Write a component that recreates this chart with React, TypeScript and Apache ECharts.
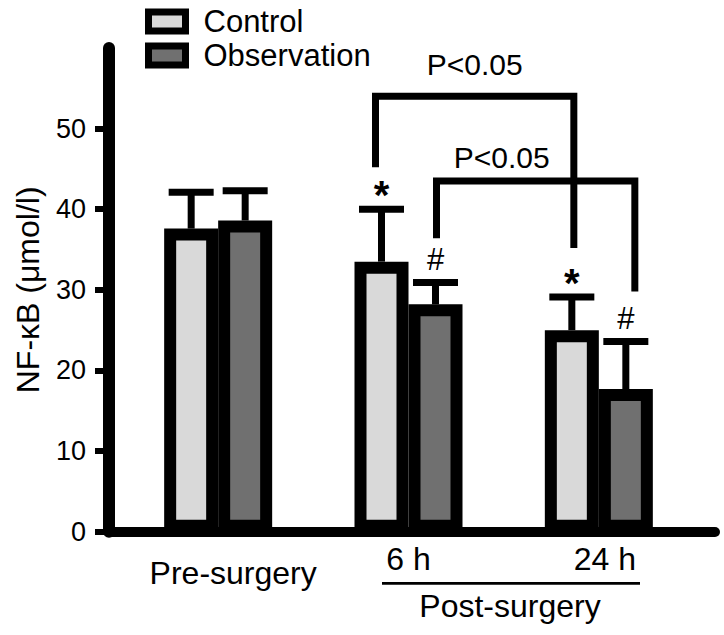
import React, { useEffect, useRef } from 'react';
import * as echarts from 'echarts';

// ---------- data ----------
const categories = ['Pre-surgery', '6 h', '24 h'];
const seriesNames = ['Control', 'Observation'];
const controlMean = [37.6, 33.5, 25.0];
const controlUpper = [42.1, 40.0, 29.1];
const observationMean = [38.6, 28.2, 17.7];
const observationUpper = [42.3, 30.9, 23.6];
const controlMarks = ['', '*', '*'];
const observationMarks = ['', '#', '#'];
const yTicks = [0, 10, 20, 30, 40, 50];
const yMin = 0;
const yMax = 60;
const yTitle = 'NF-κB (μmol/l)';
const groupLabel = 'Post-surgery';
// significance brackets (category indices, series side: 0 = Control, 1 = Observation)
const bracketFromCat = [1, 1];
const bracketToCat = [2, 2];
const bracketSide = [0, 1];
const bracketTop = [54.0, 43.5];
const bracketLeftEnd = [45.2, 36.4];
const bracketRightEnd = [35.2, 29.8];
const bracketText = ['P<0.05', 'P<0.05'];
const bracketTextValue = [57.9, 46.4];

// ---------- styling / layout ----------
const FONT = '"Liberation Sans", Arial, Helvetica, sans-serif';
const BAR_W = 54;
const SIDE_DX = [-BAR_W / 2, BAR_W / 2];
const LEG_NUDGE = [
  [-6, 2],
  [1, 9],
];
const TEXT_NUDGE = [0, -34];
const COLORS = ['#d9d9d9', '#707070'];
const LABEL_PAD = [
  [14, 0, 0, 30],
  [0, 0, 0, 0],
  [0, 0, 0, 12],
];

export default function App() {
  const ref = useRef<HTMLDivElement>(null);

  useEffect(() => {
    document.body.style.margin = '0';
    if (!ref.current) return;
    const chart = echarts.init(ref.current, null, { renderer: 'svg' });

    const labelStyle = {
      fontSize: 32,
      color: '#000',
      fontFamily: FONT,
      verticalAlign: 'top',
      align: 'center',
    };

    const errorSeries = (side: number, means: number[], uppers: number[], marks: string[], name: string) => ({
      type: 'custom',
      name: name + ' SD',
      xAxisIndex: 0,
      yAxisIndex: 0,
      z: 4,
      silent: true,
      data: means.map((m, i) => [i, m, uppers[i]]),
      renderItem: (params: any, api: any) => {
        const i = params.dataIndex;
        const [cx, yMean] = api.coord([api.value(0), api.value(1)]);
        const [, yUp] = api.coord([api.value(0), api.value(2)]);
        const x = cx + SIDE_DX[side];
        const children: any[] = [
          { type: 'rect', shape: { x: x - 3.5, y: yUp, width: 7, height: yMean - yUp }, style: { fill: '#000' } },
          { type: 'rect', shape: { x: x - 22.5, y: yUp - 3.5, width: 45, height: 7 }, style: { fill: '#000' } },
        ];
        const mk = marks[i];
        if (mk) {
          const isStar = mk === '*';
          children.push({
            type: 'text',
            style: {
              text: mk,
              x,
              y: yUp - (isStar ? 14 : 23),
              align: 'center',
              verticalAlign: 'middle',
              fontSize: isStar ? 40 : 31,
              fontWeight: isStar ? 'bold' : 'normal',
              fontFamily: FONT,
              fill: '#000',
            },
          });
        }
        return { type: 'group', children };
      },
    });

    const bracketSeries = {
      type: 'custom',
      name: 'brackets',
      xAxisIndex: 0,
      yAxisIndex: 0,
      z: 5,
      silent: true,
      data: bracketTop.map((v, i) => [bracketFromCat[i], v]),
      renderItem: (params: any, api: any) => {
        const i = params.dataIndex;
        const dx = SIDE_DX[bracketSide[i]];
        const [xa] = api.coord([bracketFromCat[i], bracketTop[i]]);
        const [xb] = api.coord([bracketToCat[i], bracketTop[i]]);
        const x1 = xa + dx + LEG_NUDGE[i][0];
        const x2 = xb + dx + LEG_NUDGE[i][1];
        const yTop = api.coord([bracketFromCat[i], bracketTop[i]])[1];
        const yL = api.coord([bracketFromCat[i], bracketLeftEnd[i]])[1];
        const yR = api.coord([bracketToCat[i], bracketRightEnd[i]])[1];
        const yT = api.coord([bracketFromCat[i], bracketTextValue[i]])[1];
        return {
          type: 'group',
          children: [
            {
              type: 'polyline',
              shape: { points: [[x1, yL], [x1, yTop], [x2, yTop], [x2, yR]] },
              style: { stroke: '#000', lineWidth: 7, fill: 'none', lineJoin: 'miter', lineCap: 'butt' },
            },
            {
              type: 'text',
              style: {
                text: bracketText[i],
                x: (x1 + x2) / 2 + TEXT_NUDGE[i],
                y: yT,
                align: 'center',
                verticalAlign: 'middle',
                fontSize: 30,
                fontFamily: FONT,
                fill: '#000',
              },
            },
          ],
        };
      },
    };

    const option: any = {
      animation: false,
      backgroundColor: '#fff',
      textStyle: { fontFamily: FONT, color: '#000' },
      grid: [
        { left: 123, right: 30, top: 48, bottom: 103.3, containLabel: false, outerBoundsMode: 'none' },
        { left: 109, right: 9, top: 48, bottom: 103.3, containLabel: false, outerBoundsMode: 'none' },
      ],
      legend: {
        data: seriesNames,
        orient: 'vertical',
        left: 145,
        top: 6,
        padding: 0,
        itemGap: 3,
        itemWidth: 37,
        itemHeight: 19,
        icon: 'rect',
        selectedMode: false,
        itemStyle: { borderColor: '#000', borderWidth: 7 },
        textStyle: { fontSize: 31, color: '#000', fontFamily: FONT, padding: [0, 0, 0, 13] },
      },
      xAxis: [
        {
          gridIndex: 0,
          type: 'category',
          data: categories.map((c, i) => ({ value: c, textStyle: { ...labelStyle, padding: LABEL_PAD[i] } })),
          axisLine: { show: false },
          axisTick: { show: false },
          splitLine: { show: false },
          axisLabel: { ...labelStyle, margin: 11, interval: 0 },
        },
        {
          gridIndex: 1,
          type: 'value',
          min: 0,
          max: 1,
          axisLine: { show: true, onZero: false, lineStyle: { color: '#000', width: 10, cap: 'round' } },
          axisTick: { show: false },
          axisLabel: { show: false },
          splitLine: { show: false },
        },
      ],
      yAxis: [
        { gridIndex: 0, type: 'value', min: yMin, max: yMax, show: false },
        {
          gridIndex: 1,
          type: 'value',
          min: yMin,
          max: yMax,
          interval: 10,
          name: yTitle,
          nameLocation: 'middle',
          nameRotate: 90,
          nameGap: 65,
          nameTextStyle: { fontSize: 32, color: '#000', fontFamily: FONT },
          axisLine: { show: true, onZero: false, lineStyle: { color: '#000', width: 12, cap: 'round' } },
          axisTick: { show: true, length: 14, customValues: yTicks, lineStyle: { color: '#000', width: 6 } },
          axisLabel: { customValues: yTicks, fontSize: 27, color: '#000', fontFamily: FONT, margin: 23 },
          splitLine: { show: false },
        },
      ],
      series: [
        {
          type: 'bar',
          name: seriesNames[0],
          xAxisIndex: 0,
          yAxisIndex: 0,
          data: controlMean,
          barWidth: BAR_W,
          barGap: '0%',
          z: 3,
          itemStyle: { color: COLORS[0], borderColor: '#000', borderWidth: 12 },
        },
        {
          type: 'bar',
          name: seriesNames[1],
          xAxisIndex: 0,
          yAxisIndex: 0,
          data: observationMean,
          barWidth: BAR_W,
          barGap: '0%',
          z: 3,
          itemStyle: { color: COLORS[1], borderColor: '#000', borderWidth: 12 },
        },
        errorSeries(0, controlMean, controlUpper, controlMarks, seriesNames[0]),
        errorSeries(1, observationMean, observationUpper, observationMarks, seriesNames[1]),
        bracketSeries,
      ],
      graphic: [
        {
          type: 'line',
          shape: { x1: 382, y1: 583.3, x2: 640, y2: 583.3 },
          style: { stroke: '#000', lineWidth: 2.7 },
        },
        {
          type: 'text',
          x: 510,
          y: 606,
          style: {
            text: groupLabel,
            fontSize: 32,
            fontFamily: FONT,
            fill: '#000',
            align: 'center',
            verticalAlign: 'middle',
          },
        },
      ],
    };

    chart.setOption(option);
    return () => chart.dispose();
  }, []);

  return <div ref={ref} style={{ width: 724, height: 635 }} />;
}
